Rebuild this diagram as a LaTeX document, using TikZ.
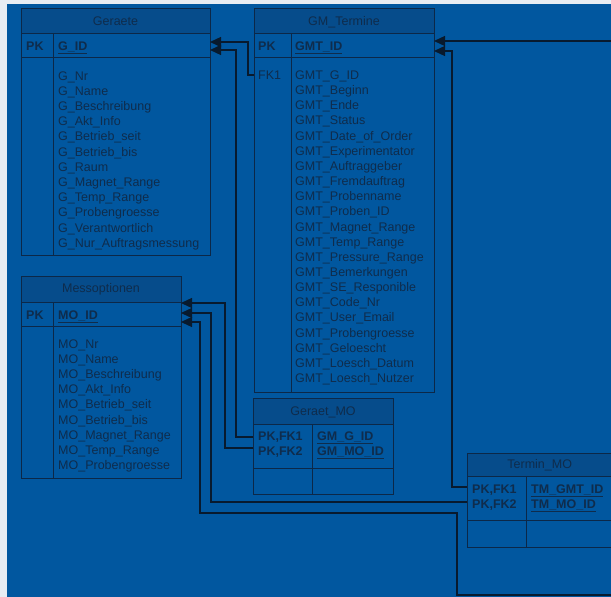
\documentclass[tikz,border=0pt]{standalone}
\usepackage{fontspec}
\setmainfont{Liberation Sans}
\usetikzlibrary{arrows.meta}
\definecolor{bgC}{HTML}{01579F}
\definecolor{hdrC}{HTML}{064C8B}
\definecolor{lineC}{HTML}{0C2848}
\definecolor{txtC}{HTML}{0F2C4C}
\definecolor{connC}{HTML}{081A2E}
\definecolor{marginC}{HTML}{E8EDF3}
\newcommand\tblfont{\fontsize{12.5}{15}\selectfont}
\newcommand\tbox[6]{\node[#6,anchor=north west,inner sep=0pt,outer sep=0pt,minimum width={(#4-#2)*1pt},minimum height={(#5-#3)*1pt}] (#1) at (#2,#3) {};}
\begin{document}
\begin{tikzpicture}[x=1pt,y=-1pt,
  tbl/.style={draw=lineC,line width=1pt},
  hdr/.style={tbl,fill=hdrC},
  txt/.style={anchor=base west,inner sep=0pt,text=txtC,font=\tblfont},
  htxt/.style={anchor=base,inner sep=0pt,text=txtC,font=\tblfont},
  conn/.style={draw=connC,line width=1.3pt},
  arr/.style={-{Triangle[length=11pt,width=10pt]}}]
\useasboundingbox (0,0) rectangle (611,597);
\clip (0,0) rectangle (611,597);
\fill[marginC] (0,0) rectangle (611,597);
\fill[bgC] (7,4) rectangle (611,597);

% ---------- Geraete ----------
\tbox{geraeteH}{21}{8}{210}{33}{hdr}
\tbox{geraeteK}{21}{33}{210}{57}{tbl}
\tbox{geraeteB}{21}{57}{210}{255}{tbl}
\draw[tbl] (53,33) -- (53,255);
\node[htxt] (geraeteT) at (115.5,25) {Geraete};
\node[txt,font=\tblfont\bfseries] (geraetePK) at (26,50) {PK};
\node[txt,font=\tblfont\bfseries] (geraeteID) at (58,50) {\underline{G\_ID}};
\foreach \t [count=\i] in {G\_Nr,G\_Name,G\_Beschreibung,G\_Akt\_Info,G\_Betrieb\_seit,G\_Betrieb\_bis,G\_Raum,G\_Magnet\_Range,G\_Temp\_Range,G\_Probengroesse,G\_Verantwortlich,G\_Nur\_Auftragsmessung}
  \node[txt] (gf\i) at (58,{80+(\i-1)*15.2}) {\t};

% ---------- GM_Termine ----------
\tbox{gmtH}{254}{8}{434}{33}{hdr}
\tbox{gmtK}{254}{33}{434}{57}{tbl}
\tbox{gmtB}{254}{57}{434}{392}{tbl}
\draw[tbl] (291,33) -- (291,392);
\node[htxt] (gmtT) at (344,25) {GM\_Termine};
\node[txt,font=\tblfont\bfseries] (gmtPK) at (258,50) {PK};
\node[txt,font=\tblfont\bfseries] (gmtID) at (295,50) {\underline{GMT\_ID}};
\node[txt] (gmtFK) at (258,79.5) {FK1};
\foreach \t [count=\i] in {GMT\_G\_ID,GMT\_Beginn,GMT\_Ende,GMT\_Status,GMT\_Date\_of\_Order,GMT\_Experimentator,GMT\_Auftraggeber,GMT\_Fremdauftrag,GMT\_Probenname,GMT\_Proben\_ID,GMT\_Magnet\_Range,GMT\_Temp\_Range,GMT\_Pressure\_Range,GMT\_Bemerkungen,GMT\_SE\_Responible,GMT\_Code\_Nr,GMT\_User\_Email,GMT\_Probengroesse,GMT\_Geloescht,GMT\_Loesch\_Datum,GMT\_Loesch\_Nutzer}
  \node[txt] (tf\i) at (295,{79.5+(\i-1)*15.15}) {\t};

% ---------- Messoptionen ----------
\tbox{moH}{21}{276}{181}{302}{hdr}
\tbox{moK}{21}{302}{181}{326}{tbl}
\tbox{moB}{21}{326}{181}{478}{tbl}
\draw[tbl] (53,302) -- (53,478);
\node[htxt] (moT) at (101,292.7) {Messoptionen};
\node[txt,font=\tblfont\bfseries] (moPK) at (26,319.3) {PK};
\node[txt,font=\tblfont\bfseries] (moID) at (58,319.3) {\underline{MO\_ID}};
\foreach \t [count=\i] in {MO\_Nr,MO\_Name,MO\_Beschreibung,MO\_Akt\_Info,MO\_Betrieb\_seit,MO\_Betrieb\_bis,MO\_Magnet\_Range,MO\_Temp\_Range,MO\_Probengroesse}
  \node[txt] (mf\i) at (58,{348.5+(\i-1)*15.12}) {\t};

% ---------- Geraet_MO ----------
\tbox{gmoH}{253}{398}{393}{424}{hdr}
\tbox{gmoK}{253}{424}{393}{468}{tbl}
\tbox{gmoB}{253}{468}{393}{494}{tbl}
\draw[tbl] (312,424) -- (312,494);
\node[htxt] (gmoT) at (323,415.3) {Geraet\_MO};
\node[txt,font=\tblfont\bfseries] (gmoK1) at (258,440) {PK,FK1};
\node[txt,font=\tblfont\bfseries] (gmoK2) at (258,455.7) {PK,FK2};
\node[txt,font=\tblfont\bfseries] (gmoF1) at (317,440) {\underline{GM\_G\_ID}};
\node[txt,font=\tblfont\bfseries] (gmoF2) at (317,455.7) {\underline{GM\_MO\_ID}};

% ---------- Termin_MO ----------
\tbox{tmoH}{467}{453}{612.5}{476}{hdr}
\tbox{tmoK}{467}{476}{612.5}{520}{tbl}
\tbox{tmoB}{467}{520}{612.5}{547}{tbl}
\draw[tbl] (526,476) -- (526,547);
\node[htxt] (tmoT) at (539.7,468.3) {Termin\_MO};
\node[txt,font=\tblfont\bfseries] (tmoK1) at (472,493.3) {PK,FK1};
\node[txt,font=\tblfont\bfseries] (tmoK2) at (472,508.3) {PK,FK2};
\node[txt,font=\tblfont\bfseries] (tmoF1) at (531,493.3) {\underline{TM\_GMT\_ID}};
\node[txt,font=\tblfont\bfseries] (tmoF2) at (531,508.3) {\underline{TM\_MO\_ID}};

% ---------- connectors ----------
\coordinate (offR1) at (611,41);
\coordinate (offR2) at (611,595);
\draw[conn,arr] (gmtB.west |- 0,75) -- (248,75) -- (248,42) -- (geraeteK.east |- 0,42);
\draw[conn,arr] (gmoK.west |- 0,437) -- (236,437) -- (236,50) -- (geraeteK.east |- 0,50);
\draw[conn,arr] (gmoK.west |- 0,448) -- (225,448) -- (225,303) -- (moK.east |- 0,303);
\draw[conn,arr] (tmoK.west |- 0,502) -- (211,502) -- (211,313) -- (moK.east |- 0,313);
\draw[conn,arr] (offR2) -- (457,595) -- (457,513) -- (200,513) -- (200,322) -- (moK.east |- 0,322);
\draw[conn,arr] (tmoK.west |- 0,487) -- (452,487) -- (452,51) -- (gmtK.east |- 0,51);
\draw[conn,arr] (offR1) -- (gmtK.east |- 0,41);
\end{tikzpicture}
\end{document}
